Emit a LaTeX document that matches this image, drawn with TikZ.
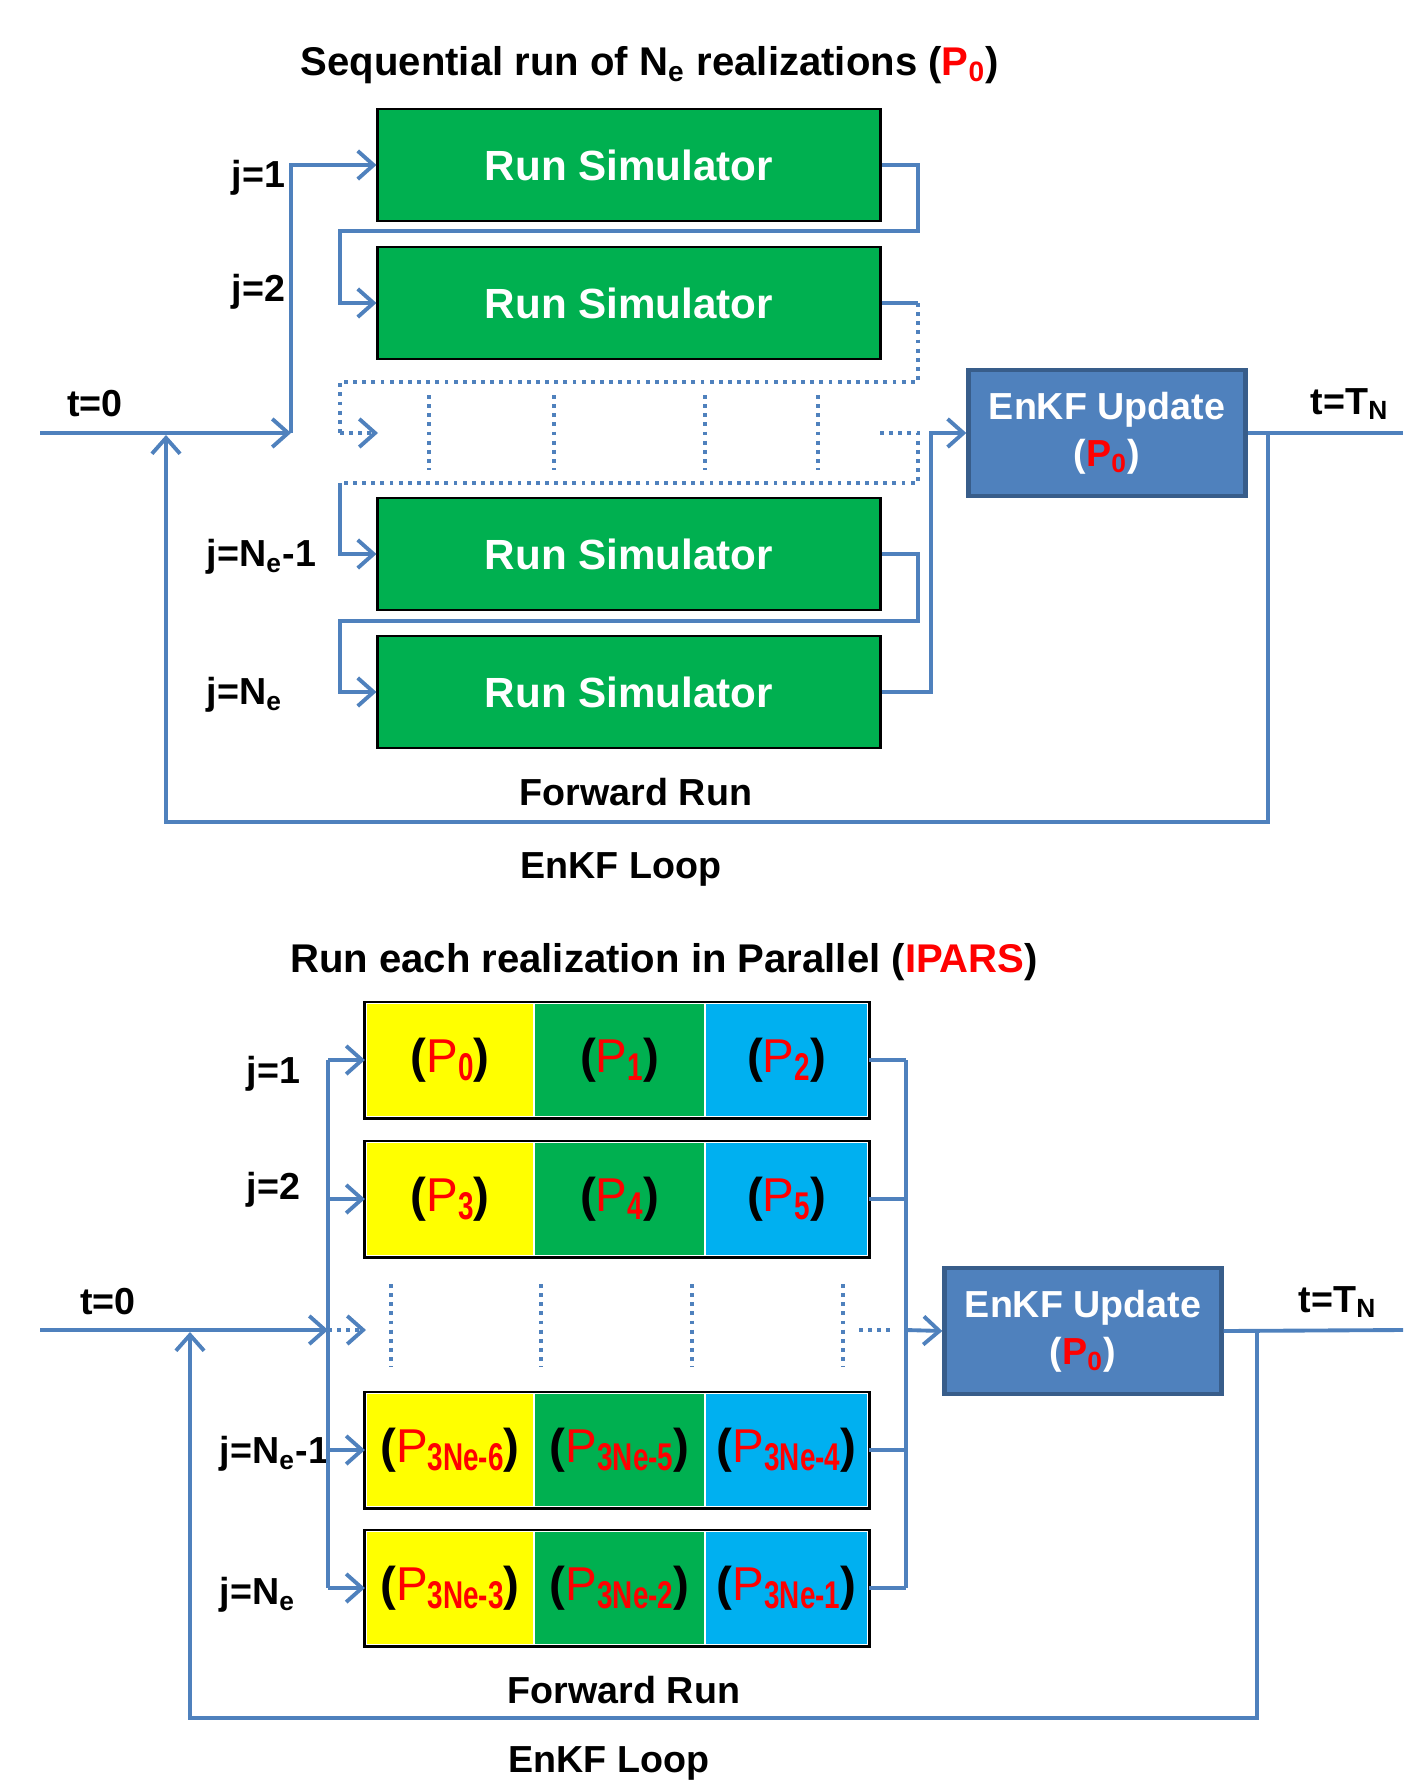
\documentclass[tikz,border=0pt]{standalone}
\usepackage{fontspec}
\usepackage{graphicx}
\setmainfont{Liberation Sans}
\usetikzlibrary{arrows.meta}
\definecolor{simgreen}{RGB}{0,176,80}
\definecolor{cellyellow}{RGB}{255,255,0}
\definecolor{cellcyan}{RGB}{0,176,240}
\definecolor{updblue}{RGB}{79,129,189}
\definecolor{updborder}{RGB}{56,93,138}
\definecolor{lineblue}{RGB}{79,129,189}
\newcommand{\narrowsub}[1]{\raisebox{-2.2pt}{\fontsize{11}{11}\selectfont\scalebox{0.72}[1]{\textbf{#1}}}}

\begin{document}
\begin{tikzpicture}[x=0.01cm,y=-0.01cm,
    >={Straight Barb[length=4.5pt,width=8pt]},
    flow/.style={draw=lineblue, line width=1.1pt},
    dots/.style={dash pattern=on 1.1pt off 1.5pt},
    simbox/.style={rectangle, fill=simgreen, draw=black, line width=0.8pt, minimum width=5.02cm, minimum height=1.12cm, text=white, font=\bfseries\fontsize{12}{14}\selectfont},
    updbox/.style={rectangle, fill=updblue, draw=updborder, line width=1.2pt, minimum width=2.77cm, minimum height=1.26cm, text=white, align=center, font=\bfseries\fontsize{10.7}{13.4}\selectfont},
    cell/.style={rectangle, draw=white, line width=0.6pt, inner sep=0pt, minimum height=1.14cm, font=\fontsize{13.5}{15}\selectfont},
    lbl/.style={font=\bfseries\fontsize{10.7}{12}\selectfont},
    ttl/.style={font=\bfseries\fontsize{11.4}{13}\selectfont}]
\useasboundingbox (0,0) rectangle (1403,1782);

% Sequential run
\node[ttl] (ttl1) at (650,65) {Sequential run of N\textsubscript{e} realizations ({\color{red}P\textsubscript{0}})};
\node[simbox] (b1) at (629,165) {Run Simulator};
\node[simbox] (b2) at (629,303) {Run Simulator};
\node[simbox] (b3) at (629,554) {Run Simulator};
\node[simbox] (b4) at (629,692) {Run Simulator};
\node[updbox] (u1) at (1107,433) {EnKF Update\\({\color{red}P\textsubscript{0}})};

\node[lbl] (t01) at (95,404) {t=0};
\node[lbl] (tn1) at (1350,404) {t=T\textsubscript{N}};
\node[lbl, anchor=west, inner sep=0pt] (j11) at (231,178) {j=1};
\node[lbl, anchor=west, inner sep=0pt] (j21) at (231,292) {j=2};
\node[lbl, anchor=west, inner sep=0pt] (j31) at (206,557) {j=N\textsubscript{e}-1};
\node[lbl, anchor=west, inner sep=0pt] (j41) at (206,695) {j=N\textsubscript{e}};
\node[lbl] (fw1) at (636,792) {Forward Run};
\node[lbl] (lp1) at (621,869) {EnKF Loop};

\coordinate (in1) at (40,433);
\coordinate (sp1) at (291,433);
\coordinate (di1) at (378,433);
\coordinate (rx) at (918,0);
\coordinate (out1) at (1403,433);

\draw[flow,->] (in1) -- (sp1);
\draw[flow,->] (sp1) |- (b1.west);
\draw[flow,->] (b1.east) -| (918,231) -- (340,231) |- (b2.west);
\draw[flow] (b2.east) -- (b2.east -| rx);
\draw[flow,dots] (b2.east -| rx) -- (918,382) -- (340,382) -- (340,433);
\draw[flow,dots,->] (340,433) -- (di1);
\foreach \x in {429,554,705,818}
  \draw[flow,dots] (\x,395) -- (\x,470);
\draw[flow,dots] (880,433) -- (918,433) -- (918,483) -- (340,483);
\draw[flow,->] (340,483) |- (b3.west);
\draw[flow,->] (b3.east) -| (918,621) -- (340,621) |- (b4.west);
\draw[flow,->] (b4.east) -| (931,433) -- (u1.west);
\draw[flow] (u1.east) -- (out1);
\draw[flow,->] (1268,433) |- (166,822) -- (166,435);

% Parallel run
\node[ttl] (ttl2) at (664,962) {Run each realization in Parallel ({\color{red}IPARS})};
\foreach \r/\y/\pa/\pb/\pc in {1/1060/0/1/2, 2/1199/3/4/5, 3/1450/3Ne-6/3Ne-5/3Ne-4, 4/1588/3Ne-3/3Ne-2/3Ne-1} {
  \node[cell, fill=cellyellow, minimum width=1.68cm] (c\r a) at (450,\y) {\textbf{(}{\color{red}P\narrowsub{\pa}}\textbf{)}};
  \node[cell, fill=simgreen, minimum width=1.71cm] (c\r b) at (619.5,\y) {\textbf{(}{\color{red}P\narrowsub{\pb}}\textbf{)}};
  \node[cell, fill=cellcyan, minimum width=1.63cm] (c\r c) at (786.5,\y) {\textbf{(}{\color{red}P\narrowsub{\pc}}\textbf{)}};
  \draw[line width=0.8pt] (c\r a.north west) rectangle (c\r c.south east);
}
\node[updbox] (u2) at (1083,1331) {EnKF Update\\({\color{red}P\textsubscript{0}})};

\node[lbl] (t02) at (108,1302) {t=0};
\node[lbl] (tn2) at (1338,1302) {t=T\textsubscript{N}};
\node[lbl, anchor=west, inner sep=0pt] (j12) at (246,1074) {j=1};
\node[lbl, anchor=west, inner sep=0pt] (j22) at (246,1190) {j=2};
\node[lbl, anchor=west, inner sep=0pt] (j32) at (219,1454) {j=N\textsubscript{e}-1};
\node[lbl, anchor=west, inner sep=0pt] (j42) at (219,1595) {j=N\textsubscript{e}};
\node[lbl] (fw2) at (624,1690) {Forward Run};
\node[lbl] (lp2) at (609,1763) {EnKF Loop};

\coordinate (in2) at (40,1330);
\coordinate (sp2) at (328,1330);
\coordinate (di2) at (366,1330);
\coordinate (rb2) at (906,1330);
\coordinate (out2) at (1403,1330);

\draw[flow,->] (in2) -- (sp2);
\draw[flow,dots,->] (sp2) -- (di2);
\draw[flow] (c1a.west -| sp2) -- (c4a.west -| sp2);
\foreach \r in {1,2,3,4} {
  \draw[flow,->] (c\r a.west -| sp2) -- (c\r a.west);
  \draw[flow] (c\r c.east) -- (c\r c.east -| rb2);
}
\draw[flow] (c1c.east -| rb2) -- (c4c.east -| rb2);
\foreach \x in {391,541,692,843}
  \draw[flow,dots] (\x,1284) -- (\x,1367);
\draw[flow,dots] (859,1330) -- (895,1330);
\draw[flow,->] (rb2) -- (u2.west);
\draw[flow] (u2.east) -- (out2);
\draw[flow,->] (1257,1330) |- (190,1718) -- (190,1332);
\end{tikzpicture}
\end{document}
